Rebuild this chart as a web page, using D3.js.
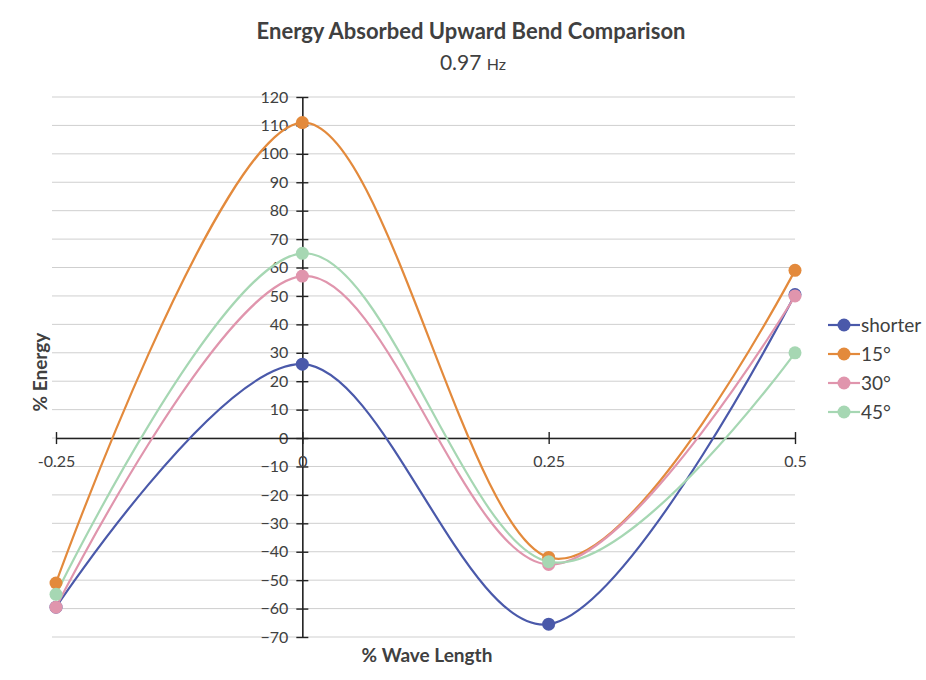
<!DOCTYPE html>
<html>
<head>
<meta charset="utf-8">
<script src="https://cdn.jsdelivr.net/npm/d3@7"></script>
<style>
  body { margin: 0; background: #fff; }
  text { font-family: Lato, "Open Sans", sans-serif; fill: #404040; }
</style>
</head>
<body>
<div id="viz"><svg></svg></div>
<script>
const fullWidth = 926;
const fullHeight = 680;

// data
const xValues = [-0.25, 0, 0.25, 0.5];
const seriesNames = ['shorter', '15°', '30°', '45°'];
const seriesColors = ['#4a59aa', '#e38a3c', '#e095ad', '#a6d7b3'];
const shorter = [-59.5, 26, -65.5, 50.5];
const deg15 = [-51, 111, -42, 59];
const deg30 = [-59.5, 57, -44.5, 50];
const deg45 = [-55, 65, -43.5, 30];
const yTicks = d3.range(-70, 121, 10);
const xTicks = [-0.25, 0, 0.25, 0.5];
const xTickLabels = ['-0.25', '0', '0.25', '0.5'];

const allSeries = [shorter, deg15, deg30, deg45].map((vals, i) => ({
  name: seriesNames[i],
  color: seriesColors[i],
  points: vals.map((v, j) => ({ x: xValues[j], y: v }))
}));

const svg = d3.select('#viz svg')
  .attr('width', fullWidth)
  .attr('height', fullHeight);

const x = d3.scaleLinear().domain([-0.25, 0.5]).range([56, 795]);
const y = d3.scaleLinear().domain([-70, 120]).range([637, 97]);

// gridlines
svg.append('g')
  .selectAll('line')
  .data(yTicks)
  .enter().append('line')
  .attr('x1', 52)
  .attr('x2', 795)
  .attr('y1', d => y(d))
  .attr('y2', d => y(d))
  .attr('stroke', '#cfcfcf')
  .attr('stroke-width', 1);

// y axis at x = 0
const yAxis = svg.append('g')
  .attr('transform', `translate(${x(0)},0)`)
  .call(d3.axisLeft(y).tickValues(yTicks).tickSize(0).tickPadding(14));
yAxis.select('.domain').attr('stroke', '#222').attr('stroke-width', 1.6);
yAxis.selectAll('.tick text')
  .attr('font-size', 16)
  .attr('fill', '#404040')
  .style('font-family', 'Lato, sans-serif');
yAxis.selectAll('.tick').append('line')
  .attr('x1', -6).attr('x2', 6)
  .attr('stroke', '#222').attr('stroke-width', 1.4);

// x axis at y = 0
const xAxis = svg.append('g')
  .attr('transform', `translate(0,${y(0)})`)
  .call(d3.axisBottom(x).tickValues(xTicks).tickFormat((d, i) => xTickLabels[i]).tickSize(0).tickPadding(18));
xAxis.select('.domain').attr('stroke', '#222').attr('stroke-width', 1.6);
xAxis.selectAll('.tick text')
  .attr('font-size', 16)
  .attr('fill', '#404040')
  .style('font-family', 'Lato, sans-serif');
xAxis.selectAll('.tick').append('line')
  .attr('y1', -6).attr('y2', 6)
  .attr('stroke', '#222').attr('stroke-width', 1.4);

// lines
const line = d3.line()
  .x(d => x(d.x))
  .y(d => y(d.y))
  .curve(d3.curveCardinal.tension(0));

const g = svg.append('g');
allSeries.forEach(s => {
  g.append('path')
    .attr('d', line(s.points))
    .attr('fill', 'none')
    .attr('stroke', s.color)
    .attr('stroke-width', 2.2);
});
allSeries.forEach(s => {
  g.selectAll(null)
    .data(s.points)
    .enter().append('circle')
    .attr('cx', d => x(d.x))
    .attr('cy', d => y(d.y))
    .attr('r', 6.5)
    .attr('fill', s.color);
});

// titles
svg.append('text')
  .attr('x', 471).attr('y', 39)
  .attr('text-anchor', 'middle')
  .attr('font-size', 22).attr('font-weight', 'bold')
  .text('Energy Absorbed Upward Bend Comparison');

const sub = svg.append('text')
  .attr('x', 473).attr('y', 70)
  .attr('text-anchor', 'middle')
  .attr('font-size', 21);
sub.append('tspan').text('0.97 ');
sub.append('tspan').attr('font-size', 16).text('Hz');

svg.append('text')
  .attr('transform', 'translate(47,372) rotate(-90)')
  .attr('text-anchor', 'middle')
  .attr('font-size', 19).attr('font-weight', 'bold')
  .text('% Energy');

svg.append('text')
  .attr('x', 427).attr('y', 662)
  .attr('text-anchor', 'middle')
  .attr('font-size', 19).attr('font-weight', 'bold')
  .text('% Wave Length');

// legend
const legend = svg.append('g').attr('transform', 'translate(828,325)');
allSeries.forEach((s, i) => {
  const row = legend.append('g').attr('transform', `translate(0,${i * 29})`);
  row.append('line')
    .attr('x1', 0).attr('x2', 32)
    .attr('stroke', s.color).attr('stroke-width', 2.2);
  row.append('circle')
    .attr('cx', 16).attr('r', 6.5)
    .attr('fill', s.color);
  row.append('text')
    .attr('x', 33).attr('y', 7)
    .attr('font-size', 19)
    .text(s.name);
});
</script>
</body>
</html>
